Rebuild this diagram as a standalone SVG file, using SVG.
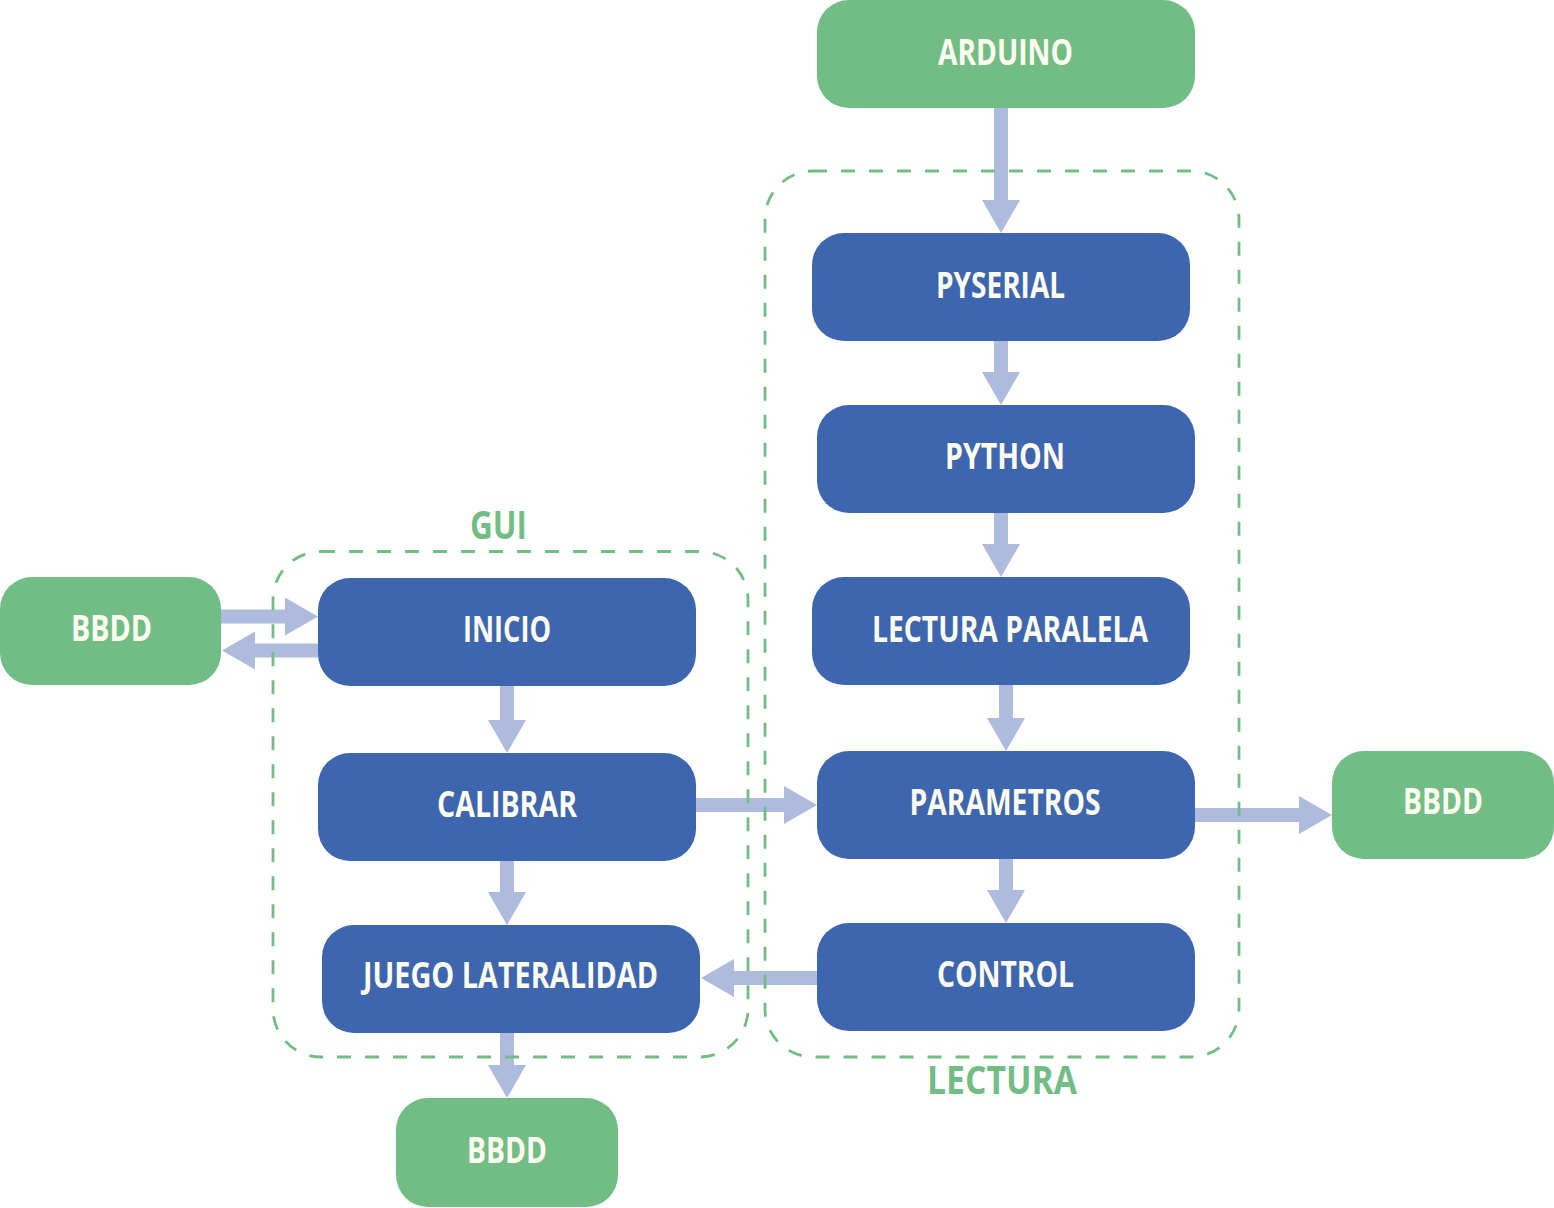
<svg xmlns="http://www.w3.org/2000/svg" width="1554" height="1208" viewBox="0 0 1554 1208">
<style>
.g{fill:#72BD85}
.b{fill:#3D66AE}
.t{font-family:"Open Sans","Noto Sans",sans-serif;font-weight:700;font-size:35px;fill:#FFFDF0;text-anchor:middle}
.lbl{font-family:"Open Sans","Noto Sans",sans-serif;font-weight:700;font-size:39px;fill:#72BD85;text-anchor:middle}
.c{stroke:#AEBBDD;stroke-width:14;fill:none;marker-end:url(#ah)}
.d{fill:none;stroke:#72BD85;stroke-width:2.8;stroke-dasharray:14 14}
</style>
<defs>
<marker id="ah" markerUnits="userSpaceOnUse" markerWidth="34" markerHeight="38" refX="1" refY="19" orient="auto" viewBox="0 0 34 38">
<path d="M0,0 L33,19 L0,38 Z" fill="#AEBBDD"/>
</marker>
</defs>
<g id="connectors">
<line class="c" x1="1001" y1="108" x2="1001" y2="201"/>
<line class="c" x1="1001" y1="341" x2="1001" y2="373"/>
<line class="c" x1="1001" y1="513" x2="1001" y2="545"/>
<line class="c" x1="1006" y1="685" x2="1006" y2="719"/>
<line class="c" x1="1006" y1="859" x2="1006" y2="891"/>
<line class="c" x1="817" y1="978" x2="733" y2="978"/>
<line class="c" x1="696" y1="805" x2="785" y2="805"/>
<line class="c" x1="1195" y1="815" x2="1300" y2="815"/>
<line class="c" x1="221" y1="616.5" x2="286" y2="616.5"/>
<line class="c" x1="318" y1="650.5" x2="254" y2="650.5"/>
<line class="c" x1="507" y1="686" x2="507" y2="721"/>
<line class="c" x1="507" y1="861" x2="507" y2="893"/>
<line class="c" x1="507" y1="1033" x2="507" y2="1066"/>
</g>
<g id="group-gui">
<rect class="d" x="273" y="551.5" width="475" height="505.5" rx="48"/>
<text class="lbl" x="498.5" y="539" textLength="57" lengthAdjust="spacingAndGlyphs">GUI</text>
</g>
<g id="group-lectura">
<rect class="d" x="765" y="171" width="474" height="886" rx="48"/>
<text class="lbl" x="1002" y="1094" textLength="150" lengthAdjust="spacingAndGlyphs">LECTURA</text>
</g>
<g id="arduino"><rect class="g" x="817" y="0" width="378" height="108" rx="32"/><text class="t" x="1005.5" y="65" textLength="135" lengthAdjust="spacingAndGlyphs">ARDUINO</text></g>
<g id="pyserial"><rect class="b" x="812" y="233" width="378" height="108" rx="32"/><text class="t" x="1000.5" y="298" textLength="129" lengthAdjust="spacingAndGlyphs">PYSERIAL</text></g>
<g id="python"><rect class="b" x="817" y="405" width="378" height="108" rx="32"/><text class="t" x="1005" y="469" textLength="120" lengthAdjust="spacingAndGlyphs">PYTHON</text></g>
<g id="lectura-paralela"><rect class="b" x="812" y="577" width="378" height="108" rx="32"/><text class="t" x="1010" y="642" textLength="276" lengthAdjust="spacingAndGlyphs">LECTURA PARALELA</text></g>
<g id="parametros"><rect class="b" x="817" y="751" width="378" height="108" rx="32"/><text class="t" x="1005" y="815" textLength="191" lengthAdjust="spacingAndGlyphs">PARAMETROS</text></g>
<g id="control"><rect class="b" x="817" y="923" width="378" height="108" rx="32"/><text class="t" x="1005.5" y="987" textLength="137" lengthAdjust="spacingAndGlyphs">CONTROL</text></g>
<g id="inicio"><rect class="b" x="318" y="578" width="378" height="108" rx="32"/><text class="t" x="507" y="642" textLength="88" lengthAdjust="spacingAndGlyphs">INICIO</text></g>
<g id="calibrar"><rect class="b" x="318" y="753" width="378" height="108" rx="32"/><text class="t" x="507" y="817" textLength="140" lengthAdjust="spacingAndGlyphs">CALIBRAR</text></g>
<g id="juego-lateralidad"><rect class="b" x="322" y="925" width="378" height="108" rx="32"/><text class="t" x="510.5" y="988" textLength="295" lengthAdjust="spacingAndGlyphs">JUEGO LATERALIDAD</text></g>
<g id="bbdd-left"><rect class="g" x="0" y="577" width="221" height="108" rx="32"/><text class="t" x="111.5" y="641" textLength="81" lengthAdjust="spacingAndGlyphs">BBDD</text></g>
<g id="bbdd-right"><rect class="g" x="1332" y="751" width="222" height="108" rx="32"/><text class="t" x="1443" y="814" textLength="80" lengthAdjust="spacingAndGlyphs">BBDD</text></g>
<g id="bbdd-bottom"><rect class="g" x="396" y="1098" width="222" height="109" rx="32"/><text class="t" x="507" y="1163" textLength="80" lengthAdjust="spacingAndGlyphs">BBDD</text></g>
</svg>
